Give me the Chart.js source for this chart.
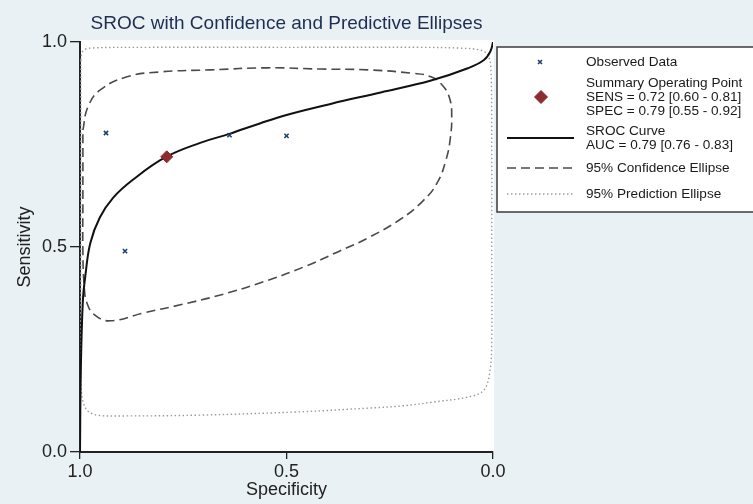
<!DOCTYPE html>
<html>
<head>
<meta charset="utf-8">
<title>SROC with Confidence and Predictive Ellipses</title>
<script src="https://cdn.jsdelivr.net/npm/chart.js@4.4.1/dist/chart.umd.min.js"></script>
<style>
    html, body { margin: 0; padding: 0; background: #e9f1f4; }
    canvas { display: block; }
</style>
</head>
<body>
<canvas id="sroc-chart" width="753" height="504"></canvas>
<script>
/* global Chart */

// Observed studies (specificity, sensitivity)
const observedSpec = [0.937, 0.891, 0.638, 0.500];
const observedSens = [0.778, 0.490, 0.773, 0.771];

// Summary operating point
const summarySpec = [0.79];
const summarySens = [0.72];

// SROC curve
const srocSpec = [1.000, 0.998, 0.993, 0.987, 0.975, 0.952, 0.920, 0.872, 0.793, 0.709, 0.638,
    0.563, 0.500, 0.393, 0.272, 0.150, 0.061, 0.022, 0.006, 0.000];
const srocSens = [0.000, 0.200, 0.370, 0.430, 0.510, 0.572, 0.620, 0.664, 0.719, 0.754, 0.776,
    0.802, 0.822, 0.849, 0.877, 0.906, 0.936, 0.956, 0.978, 1.000];

// 95% confidence ellipse
const confSpec = [0.993, 0.981, 0.951, 0.886, 0.806, 0.684, 0.546, 0.417, 0.303, 0.199, 0.150,
    0.119, 0.104, 0.100, 0.103, 0.114, 0.136, 0.170, 0.225, 0.303, 0.376, 0.459, 0.556, 0.660,
    0.757, 0.847, 0.927, 0.964, 0.983, 0.990, 0.993, 0.993, 0.993, 0.993];
const confSens = [0.785, 0.841, 0.883, 0.915, 0.927, 0.932, 0.937, 0.934, 0.932, 0.924, 0.915,
    0.890, 0.859, 0.822, 0.768, 0.712, 0.655, 0.612, 0.567, 0.522, 0.488, 0.451, 0.415, 0.383,
    0.359, 0.339, 0.320, 0.334, 0.363, 0.407, 0.493, 0.615, 0.712, 0.785];

// 95% prediction ellipse
const predSpec = [0.998, 0.993, 0.976, 0.830, 0.500, 0.175, 0.078, 0.029, 0.012, 0.005, 0.003,
    0.003, 0.003, 0.007, 0.022, 0.061, 0.143, 0.223, 0.303, 0.466, 0.709, 0.886, 0.959, 0.983,
    0.995, 0.998, 0.998, 0.998, 0.998];
const predSens = [0.956, 0.978, 0.985, 0.987, 0.987, 0.987, 0.985, 0.980, 0.968, 0.932, 0.737,
    0.493, 0.273, 0.200, 0.151, 0.134, 0.122, 0.112, 0.107, 0.098, 0.090, 0.088, 0.090, 0.102,
    0.134, 0.200, 0.493, 0.810, 0.956];

const tickValues = [0, 0.5, 1];

// Legend texts
const legendObserved = ['Observed Data'];
const legendSummary = ['Summary Operating Point', 'SENS = 0.72 [0.60 - 0.81]', 'SPEC = 0.79 [0.55 - 0.92]'];
const legendSroc = ['SROC Curve', 'AUC = 0.79 [0.76 - 0.83]'];
const legendConf = ['95% Confidence Ellipse'];
const legendPred = ['95% Prediction Ellipse'];

const fontFamily = '"Liberation Sans", Arial, Helvetica, sans-serif';

/**
 * Pair up two arrays into {x, y} points
 *
 * @param {number[]} xs x values
 * @param {number[]} ys y values
 * @returns {object[]} points
 */
const toPoints = (xs, ys) => xs.map((x, i) => ({x: x, y: ys[i]}));

const backgroundPlugin = {
    id: 'stataBackground',
    beforeDraw: (chart) => {
        const {ctx, chartArea} = chart;

        ctx.save();
        ctx.fillStyle = '#e9f1f4';
        ctx.fillRect(0, 0, chart.width, chart.height);
        ctx.fillStyle = '#ffffff';
        ctx.fillRect(chartArea.left, chartArea.top - 2, chartArea.width + 1, chartArea.height + 2);
        ctx.restore();
    }
};

const legendPlugin = {
    id: 'sideLegend',
    afterDraw: (chart) => {
        const ctx = chart.ctx;
        const ds = chart.data.datasets;
        const textX = 586;
        const sampleLeft = 507;
        const sampleRight = 574;

        ctx.save();
        ctx.fillStyle = '#ffffff';
        ctx.strokeStyle = '#3a3a3a';
        ctx.lineWidth = 1.5;
        ctx.fillRect(497, 47, 270, 165);
        ctx.strokeRect(497, 47, 270, 165);

        ctx.font = '13.6px ' + fontFamily;
        ctx.textAlign = 'left';
        ctx.textBaseline = 'middle';

        const writeLines = (lines, y0) => {
            ctx.fillStyle = '#1a1a1a';
            lines.forEach((line, i) => ctx.fillText(line, textX, y0 + i * 14));
        };

        const drawSample = (dataset, y) => {
            ctx.save();
            ctx.strokeStyle = dataset.borderColor;
            ctx.lineWidth = dataset.borderWidth;
            ctx.setLineDash(dataset.borderDash || []);
            ctx.beginPath();
            ctx.moveTo(sampleLeft, y);
            ctx.lineTo(sampleRight, y);
            ctx.stroke();
            ctx.restore();
        };

        // Observed data
        ctx.strokeStyle = ds[0].borderColor;
        ctx.fillStyle = ds[0].backgroundColor;
        ctx.lineWidth = ds[0].borderWidth;
        Chart.helpers.drawPoint(ctx, {
            pointStyle: 'crossRot', radius: 2.8, rotation: 0, borderWidth: ds[0].borderWidth
        }, 540, 62);
        writeLines(legendObserved, 62);

        // Summary point
        ctx.fillStyle = ds[1].backgroundColor;
        ctx.strokeStyle = ds[1].borderColor;
        ctx.lineWidth = 1;
        Chart.helpers.drawPoint(ctx, {
            pointStyle: 'rectRot', radius: 6.5, rotation: 0, borderWidth: 1
        }, 541, 97);
        writeLines(legendSummary, 83);

        // SROC curve
        drawSample(ds[2], 138);
        writeLines(legendSroc, 131);

        // Ellipses
        drawSample(ds[3], 168);
        writeLines(legendConf, 168);
        drawSample(ds[4], 194);
        writeLines(legendPred, 194);

        ctx.restore();
    }
};

const axisColor = '#222222';
const tickFont = {family: fontFamily, size: 18};

const chartData = {
    datasets: [
        {
            label: 'Observed Data',
            data: toPoints(observedSpec, observedSens),
            pointStyle: 'crossRot',
            pointRadius: 3,
            borderColor: '#1d3f73',
            backgroundColor: '#1d3f73',
            borderWidth: 1.6,
            showLine: false,
            order: 0
        },
        {
            label: 'Summary Operating Point',
            data: toPoints(summarySpec, summarySens),
            pointStyle: 'rectRot',
            pointRadius: 6,
            borderColor: '#8a2a2c',
            backgroundColor: '#8e2b2e',
            borderWidth: 1,
            showLine: false,
            order: 0
        },
        {
            label: 'SROC Curve',
            data: toPoints(srocSpec, srocSens),
            borderColor: '#111111',
            borderWidth: 2,
            pointRadius: 0,
            showLine: true,
            tension: 0.4,
            order: 2
        },
        {
            label: '95% Confidence Ellipse',
            data: toPoints(confSpec, confSens),
            borderColor: '#4a4a4a',
            borderWidth: 1.6,
            borderDash: [9, 5],
            pointRadius: 0,
            showLine: true,
            tension: 0.45,
            order: 3
        },
        {
            label: '95% Prediction Ellipse',
            data: toPoints(predSpec, predSens),
            borderColor: '#9a9a9a',
            borderWidth: 1.4,
            borderDash: [1.5, 2.5],
            pointRadius: 0,
            showLine: true,
            tension: 0.35,
            order: 4
        }
    ]
};

const chartOptions = {
    responsive: false,
    animation: false,
    layout: {
        padding: {left: 0, right: 260, top: 0, bottom: 0}
    },
    plugins: {
        legend: {display: false},
        tooltip: {enabled: false},
        title: {
            display: true,
            fullSize: false,
            text: 'SROC with Confidence and Predictive Ellipses',
            color: '#1f2e4f',
            font: {family: fontFamily, size: 19, weight: 'normal'},
            padding: {top: 12.6, bottom: 6.6}
        }
    },
    scales: {
        x: {
            type: 'linear',
            reverse: true,
            min: 0,
            max: 1,
            afterBuildTicks: (scale) => {
                scale.ticks = tickValues.map(v => ({value: v}));
            },
            afterFit: (scale) => {
                scale.height = 52;
            },
            ticks: {
                color: axisColor,
                font: tickFont,
                padding: 2,
                maxRotation: 0,
                callback: (v) => Number(v).toFixed(1)
            },
            grid: {
                drawOnChartArea: false,
                tickLength: 7,
                color: axisColor,
                lineWidth: 1.3
            },
            border: {display: true, color: axisColor, width: 2},
            title: {
                display: true,
                text: 'Specificity',
                color: axisColor,
                font: tickFont,
                padding: {top: 0, bottom: 3.2}
            }
        },
        y: {
            type: 'linear',
            min: 0,
            max: 1,
            afterBuildTicks: (scale) => {
                scale.ticks = tickValues.map(v => ({value: v}));
            },
            afterFit: (scale) => {
                scale.width = 80;
            },
            ticks: {
                color: axisColor,
                font: tickFont,
                padding: 3,
                callback: (v) => Number(v).toFixed(1)
            },
            grid: {
                drawOnChartArea: false,
                tickLength: 10,
                color: axisColor,
                lineWidth: 1.3
            },
            border: {display: true, color: axisColor, width: 2},
            title: {
                display: true,
                text: 'Sensitivity',
                color: axisColor,
                font: tickFont,
                padding: {top: 14.2, bottom: 0}
            }
        }
    }
};

(() => {
    'use strict';

    const element = document.getElementById('sroc-chart');
    const chart = new Chart(element, { // eslint-disable-line no-unused-vars
        type: 'scatter',
        data: chartData,
        options: chartOptions,
        plugins: [backgroundPlugin, legendPlugin]
    });
})();
</script>
</body>
</html>
